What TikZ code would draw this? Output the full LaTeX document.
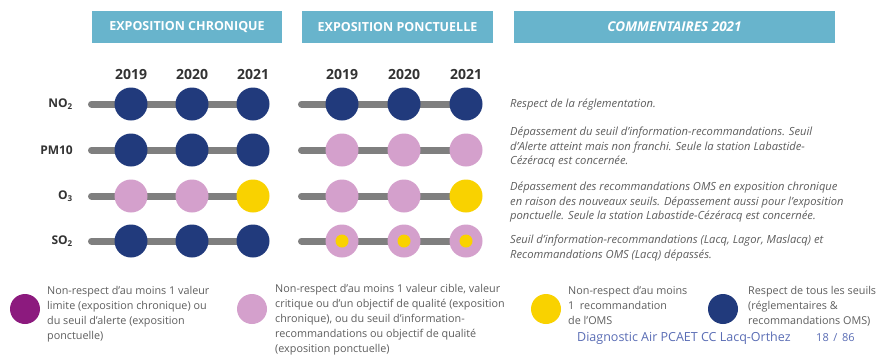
\documentclass[tikz,border=0pt]{standalone}
\usepackage{fontspec}
\setmainfont{Open Sans}
\usetikzlibrary{backgrounds}
\definecolor{hdrteal}{HTML}{68B4CC}
\definecolor{navy}{HTML}{213A7C}
\definecolor{rose}{HTML}{D4A0CC}
\definecolor{jaune}{HTML}{F9D200}
\definecolor{violet}{HTML}{8C1A7E}
\definecolor{bargray}{HTML}{7F7F7F}
\definecolor{txtdark}{HTML}{333333}
\definecolor{txtgray}{HTML}{5E5E5E}
\definecolor{footblue}{HTML}{5A6DB5}
\begin{document}
\begin{tikzpicture}[x=1pt,y=-1pt,
  hdr/.style={fill=hdrteal, text=white, inner sep=0, minimum height=32, font=\bfseries\fontsize{12.5}{14}\selectfont},
  yr/.style={text=txtdark, inner sep=0, font=\bfseries\fontsize{14}{16}\selectfont},
  rowlbl/.style={anchor=east, text=txtdark, inner sep=0, font=\bfseries\fontsize{12}{14}\selectfont},
  dot/.style={circle, minimum size=33, inner sep=0},
  smalldot/.style={circle, minimum size=13, inner sep=0, fill=jaune},
  legdot/.style={circle, minimum size=30, inner sep=0},
  bar/.style={line width=7, line cap=round, draw=bargray},
  comment/.style={anchor=north west, align=left, inner sep=0, text=txtgray, font=\itshape\fontsize{11.2}{14.5}\selectfont},
  legtxt/.style={anchor=north west, align=left, inner sep=0, text=txtgray, font=\fontsize{10.8}{15}\selectfont}]
\useasboundingbox (0,0) rectangle (878,360);
\begin{scope}[on background layer]
  \fill[white] (0,0) rectangle (878,360);
\end{scope}
% headers
\node[hdr, minimum width=190] (h1) at (187,27) {EXPOSITION CHRONIQUE};
\node[hdr, minimum width=191] (h2) at (397.5,27) {EXPOSITION PONCTUELLE};
\node[hdr, minimum width=321, font=\bfseries\itshape\fontsize{13.5}{15}\selectfont] (h3) at (674.5,27) {COMMENTAIRES 2021};
% years
\foreach \x/\yv [count=\i] in {131/2019,192/2020,253/2021}{
  \node[yr] (yc\i) at (\x,74) {\yv};}
\foreach \x/\yv [count=\i] in {342/2019,404/2020,466/2021}{
  \node[yr] (yp\i) at (\x,74) {\yv};}
% row labels
\node[rowlbl] (lno2) at (73,104) {NO\textsubscript{2}};
\node[rowlbl] (lpm) at (73,150) {PM10};
\node[rowlbl] (lo3) at (73,196) {O\textsubscript{3}};
\node[rowlbl] (lso2) at (73,241) {SO\textsubscript{2}};
% dots chronic
\foreach \r/\y/\ca/\cb/\cc in {no2/104/navy/navy/navy, pm/150/navy/navy/navy, o3/196/rose/rose/jaune, so2/241/navy/navy/navy}{
  \node[dot, fill=\ca] (c-\r-1) at (131,\y) {};
  \node[dot, fill=\cb] (c-\r-2) at (192,\y) {};
  \node[dot, fill=\cc] (c-\r-3) at (253,\y) {};
  \coordinate (cs-\r) at (91.5,\y);
  \begin{scope}[on background layer]
    \draw[bar] (cs-\r) -- (c-\r-3.center);
  \end{scope}
}
% dots ponctual
\foreach \r/\y/\ca/\cb/\cc in {no2/104/navy/navy/navy, pm/150/rose/rose/rose, o3/196/rose/rose/jaune, so2/241/rose/rose/rose}{
  \node[dot, fill=\ca] (p-\r-1) at (342,\y) {};
  \node[dot, fill=\cb] (p-\r-2) at (404,\y) {};
  \node[dot, fill=\cc] (p-\r-3) at (466,\y) {};
  \coordinate (ps-\r) at (301.5,\y);
  \begin{scope}[on background layer]
    \draw[bar] (ps-\r) -- (p-\r-3.center);
  \end{scope}
}
\foreach \i in {1,2,3}{\node[smalldot] (sy\i) at (p-so2-\i) {};}
% comments
\node[comment] (cm1) at (510,99) {Respect de la réglementation.};
\node[comment] (cm2) at (510,127) {Dépassement du seuil d'information-recommandations. Seuil\\d'Alerte atteint mais non franchi. Seule la station Labastide-\\Cézéracq est concernée.};
\node[comment] (cm3) at (510,182) {Dépassement des recommandations OMS en exposition chronique\\en raison des nouveaux seuils. Dépassement aussi pour l'exposition\\ponctuelle. Seule la station Labastide-Cézéracq est concernée.};
\node[comment] (cm4) at (510,235) {Seuil d'information-recommandations (Lacq, Lagor, Maslacq) et\\Recommandations OMS (Lacq) dépassés.};
% legend
\node[legdot, fill=violet] (g1) at (25,309) {};
\node[legtxt] (t1) at (47,286) {Non-respect d'au moins 1 valeur\\limite (exposition chronique) ou\\du seuil d'alerte (exposition\\ponctuelle)};
\node[legdot, fill=rose] (g2) at (252,309) {};
\node[legtxt] (t2) at (275,284) {Non-respect d'au moins 1 valeur cible, valeur\\critique ou d'un objectif de qualité (exposition\\chronique), ou du seuil d'information-\\recommandations ou objectif de qualité\\(exposition ponctuelle)};
\node[legdot, fill=jaune] (g3) at (546,309) {};
\node[legtxt] (t3) at (568,286) {Non-respect d'au moins\\1\ \ recommandation\\de l'OMS};
\node[legdot, fill=navy] (g4) at (723,309) {};
\node[legtxt] (t4) at (748,286) {Respect de tous les seuils\\(réglementaires \&\\recommandations OMS)};
% footer
\node[anchor=west, inner sep=0, text=footblue, font=\fontsize{12.5}{14}\selectfont] (ft) at (577,338) {Diagnostic Air PCAET CC Lacq-Orthez};
\node[anchor=west, inner sep=0, text=footblue, font=\fontsize{11}{13}\selectfont] (pg) at (816,338) {18\ \,/\ \,86};
\end{tikzpicture}
\end{document}
